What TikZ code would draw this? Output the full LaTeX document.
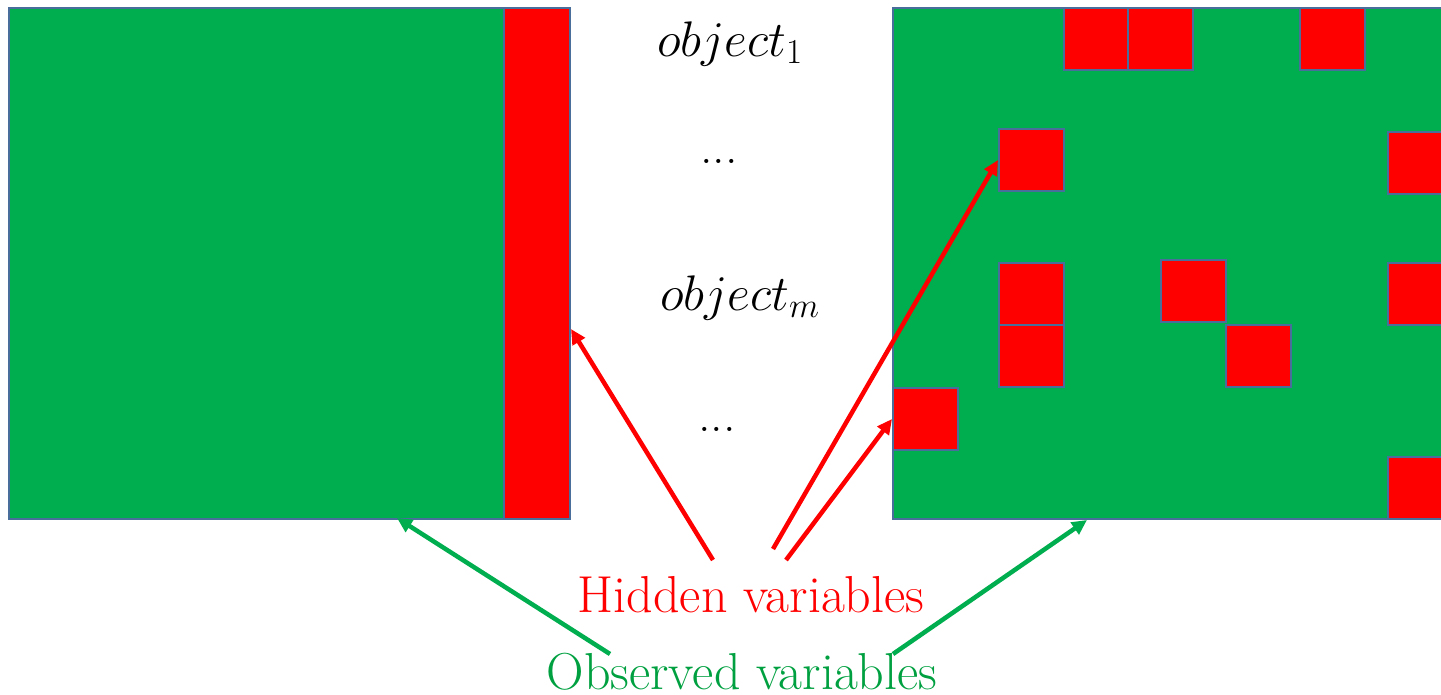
\RequirePackage{fix-cm}
\documentclass[tikz,border=0pt]{standalone}
\usetikzlibrary{arrows.meta}
\definecolor{fillgreen}{HTML}{00AD4F}
\definecolor{txtgreen}{HTML}{00A040}
\definecolor{edgeblue}{HTML}{4A6E9C}
\tikzset{
  panel/.style={draw=edgeblue, line width=2pt, fill=fillgreen, anchor=north west, inner sep=0pt},
  cell/.style={draw=edgeblue, line width=2pt, fill=red, anchor=north west, inner sep=0pt,
               minimum width=65pt, minimum height=62pt},
  lbl/.style={anchor=base, inner sep=0pt, font=\fontsize{50}{60}\selectfont},
  legend/.style={anchor=base, inner sep=0pt, font=\fontsize{52}{62}\selectfont},
  hidarrow/.style={draw=red, line width=4.5pt, -{Triangle[length=15pt,width=14pt]}},
  obsarrow/.style={draw=fillgreen, line width=4.5pt, -{Triangle[length=15pt,width=14pt]}}
}
\begin{document}
\begin{tikzpicture}[x=1pt,y=-1pt]
\useasboundingbox (0,0) rectangle (1441,694);
\begin{scope}
\clip (0,0) rectangle (1441,694);
% left table: observed block and one hidden column
\node[panel, minimum width=495pt, minimum height=511pt] (lgreen) at (8,7) {};
\node[panel, fill=red, minimum width=66pt, minimum height=511pt] (lbar) at (503,7) {};
% right table: observed block with scattered hidden cells
\node[panel, minimum width=560pt, minimum height=511pt] (rgreen) at (892,7) {};
\node[cell] (c1) at (1063,7) {};
\node[cell] (c2) at (1127,7) {};
\node[cell] (c3) at (1299,7) {};
\node[cell] (c4) at (998,128) {};
\node[cell] (c5) at (1387,131) {};
\node[cell] (c6) at (998,262) {};
\node[cell] (c7) at (1160,259) {};
\node[cell] (c8) at (1387,262) {};
\node[cell] (c9) at (998,324) {};
\node[cell] (c10) at (1225,324) {};
\node[cell] (c11) at (892,387) {};
\node[cell] (c12) at (1387,456) {};
\end{scope}
% row labels
\node[lbl] (o1) at (730,56) {$object_1$};
\node[lbl] (d1) at (719,163) {...};
\node[lbl] (om) at (740,310) {$object_m$};
\node[lbl] (d2) at (717,431) {...};
% legend
\node[legend, text=red] (hid) at (751,612) {Hidden variables};
\node[legend, text=txtgreen] (obs) at (742,689) {Observed variables};
% arrow tails
\coordinate (h1) at (713,560);
\coordinate (h2) at (773,549);
\coordinate (h3) at (786,560);
\coordinate (g1) at (610,654);
\coordinate (g2) at (893,654);
% arrow heads' targets
\coordinate (t1) at (lbar.east |- 0,329);
\coordinate (t2) at (c4.west |- 0,160);
\coordinate (t3) at (c11.west |- 0,419);
\coordinate (t4) at (397,518);
\coordinate (t5) at (1087,520);
\draw[hidarrow] (h1) -- (t1);
\draw[hidarrow] (h2) -- (t2);
\draw[hidarrow] (h3) -- (t3);
\draw[obsarrow] (g1) -- (t4);
\draw[obsarrow] (g2) -- (t5);
\end{tikzpicture}
\end{document}
